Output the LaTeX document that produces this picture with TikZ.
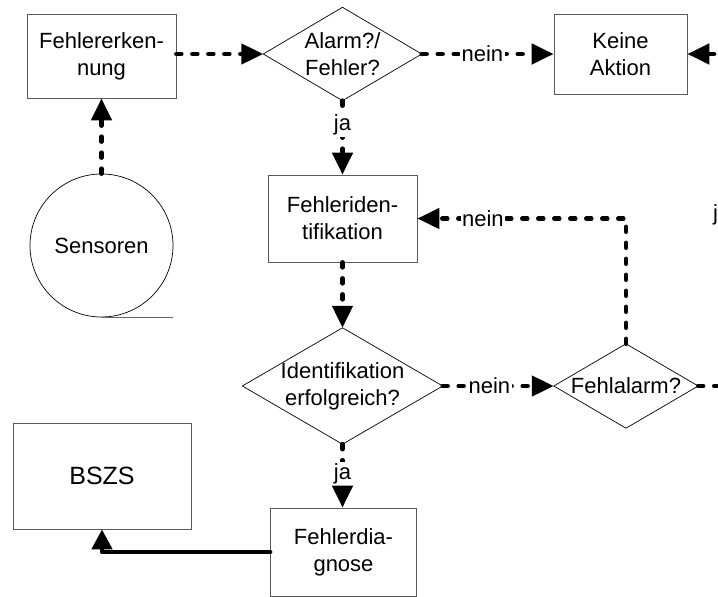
\documentclass[tikz,border=0pt]{standalone}
\usepackage{fontspec}
\setmainfont{Liberation Sans}
\usetikzlibrary{arrows.meta}
\begin{document}
\begin{tikzpicture}[x=1pt,y=-1pt,
  every node/.style={font=\fontsize{22}{27}\selectfont, align=center, inner sep=0pt},
  boxn/.style={draw=black!65, line width=0.7pt},
  dline/.style={line width=4.5pt, line cap=round, dash pattern=on 5pt off 11pt},
  sline/.style={line width=4.5pt, line cap=round, line join=round},
  tip/.style={-{Triangle[length=22pt,width=20pt]}},
  lbl/.style={fill=white, inner sep=1.5pt}]
\useasboundingbox (0,0) rectangle (718,597);
\clip (0,0) rectangle (718,597);
\fill[white] (0,0) rectangle (718,597);
% nodes
\node[boxn, minimum width=149pt, minimum height=84pt] (fe) at (101.5,56) {Fehlererken-\\nung};
\node[minimum width=158pt, minimum height=93pt] (al) at (342.5,54) {Alarm?/\\Fehler?};
\node[boxn, minimum width=133pt, minimum height=80pt] (ka) at (620.5,54) {Keine\\Aktion};
\node[boxn, minimum width=149pt, minimum height=87pt] (fi) at (342.5,218.5) {Fehleriden-\\tifikation};
\node[draw, line width=0.7pt, circle, minimum size=143pt] (se) at (101.5,245.5) {Sensoren};
\draw[black!60, line width=0.8pt] (se.south) -- ++(71.5,0) coordinate (seline);
\node[minimum width=200pt, minimum height=116pt] (id) at (342.5,386) {Identifikation\\erfolgreich?};
\node[minimum width=144pt, minimum height=84pt] (fa) at (626,386) {Fehlalarm?};
\node[boxn, minimum width=178pt, minimum height=106pt, font=\fontsize{25}{30}\selectfont] (bs) at (102,476) {BSZS};
\node[boxn, minimum width=146pt, minimum height=88pt] (fd) at (343.5,552) {Fehlerdia-\\gnose};
\node[anchor=base west] (jl) at (713,220) {j};
\foreach \n in {al,id,fa}
  \draw[line width=0.7pt] (\n.north) -- (\n.east) -- (\n.south) -- (\n.west) -- cycle;
% free ends
\coordinate (r1) at (730,386);
\coordinate (r2) at (730,54);
% connectors
\draw[dline, tip] (se.north) -- (fe.south);
\draw[dline, tip] (fe.east |- al.west) -- (al.west);
\draw[dline, tip] (al.east) -- node[lbl, pos=0.46] {nein} (ka.west);
\draw[dline, tip] (al.south) -- node[lbl, pos=0.33] {ja} (fi.north);
\draw[dline, tip] (fi.south) -- (id.north);
\draw[dline, tip] (id.east) -- node[lbl, pos=0.42] {nein} (fa.west);
\draw[dline, tip] (fa.north) |- node[lbl, pos=0.843] {nein} (fi.east);
\draw[dline] (fa.east) -- (r1);
\draw[dline, tip] (r2) -- (ka.east);
\draw[dline, tip] (id.south) -- node[lbl, pos=0.46] {ja} (id.south |- fd.north);
\draw[sline, -{Triangle[length=20pt,width=20pt]}] (fd.west) -| (bs.south);
\end{tikzpicture}
\end{document}
